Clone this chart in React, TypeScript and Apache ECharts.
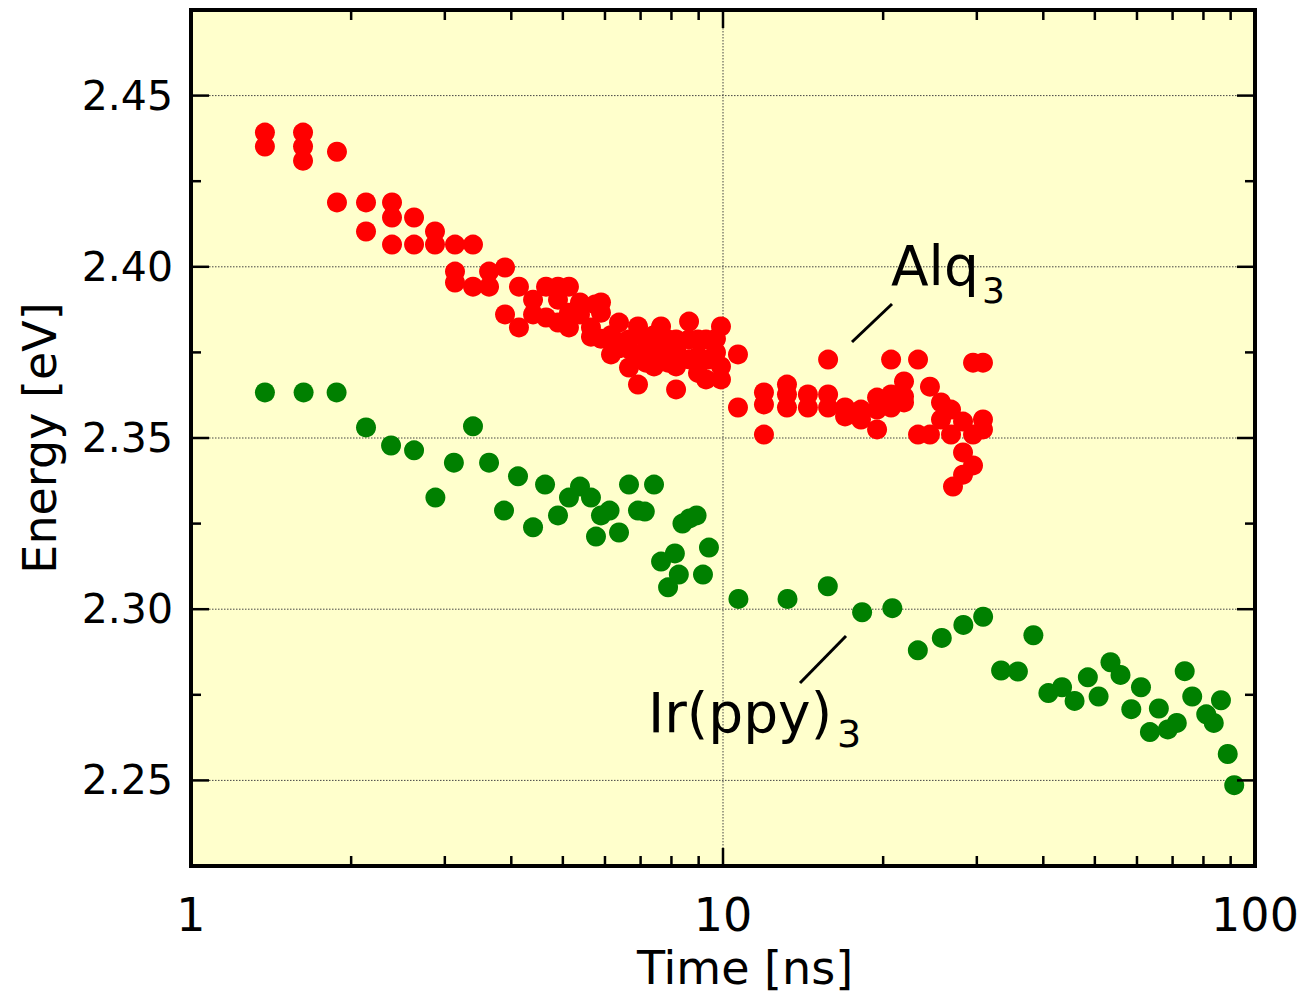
import React, { useEffect, useRef } from 'react';
import * as echarts from 'echarts';

// Alq3 (red) data: time [ns], energy [eV]
const alqTime = [
  1.377, 1.377,
  1.624, 1.624, 1.624,
  1.881, 1.881,
  2.133, 2.133,
  2.387, 2.387, 2.387,
  2.626, 2.626,
  2.875, 2.875,
  3.135, 3.135, 3.135,
  3.389, 3.389,
  3.633, 3.633,
  3.893, 3.893,
  4.135, 4.135,
  4.395, 4.395,
  4.649, 4.649,
  4.896, 4.896, 4.896,
  5.134, 5.134, 5.134,
  5.385, 5.385,
  5.647, 5.647,
  5.75,
  5.897, 5.897, 5.897,
  6.159, 6.159,
  6.376, 6.376, 6.376,
  6.658, 6.658, 6.658,
  6.922, 6.922, 6.922,
  7.167, 7.167, 7.167,
  7.419, 7.419,
  7.648, 7.648, 7.648,
  7.884, 7.884,
  8.162, 8.162, 8.162, 8.162,
  8.634, 8.634, 8.634,
  8.974, 8.974, 8.974,
  9.291, 9.291,
  9.372,
  9.701, 9.701,
  9.913, 9.913, 9.913,
  10.67, 10.67,
  11.94, 11.94, 11.94,
  13.19, 13.19, 13.19,
  14.44, 14.44,
  15.76, 15.76, 15.76,
  16.96, 16.96,
  18.17, 18.17,
  19.48, 19.48, 19.48,
  20.7, 20.7, 20.7,
  21.89, 21.89, 21.89,
  23.26, 23.26,
  24.49, 24.49,
  25.69, 25.69,
  26.83, 26.83,
  27.06,
  28.26, 28.26, 28.26,
  29.51, 29.51, 29.51,
  30.81, 30.81, 30.81,
];
const alqEnergy = [
  2.4392, 2.4351,
  2.4392, 2.4351, 2.431,
  2.4336, 2.4188,
  2.4188, 2.4103,
  2.4188, 2.4144, 2.4065,
  2.4144, 2.4065,
  2.4103, 2.4065,
  2.4065, 2.3986, 2.3954,
  2.4065, 2.3942,
  2.3986, 2.3942,
  2.3998, 2.3861,
  2.3942, 2.3823,
  2.3904, 2.3861,
  2.3942, 2.3852,
  2.3942, 2.3904, 2.3837,
  2.3942, 2.3866, 2.3823,
  2.3896, 2.3861,
  2.3823, 2.3796,
  2.389,
  2.3896, 2.3866, 2.379,
  2.38, 2.3744,
  2.3837, 2.378, 2.3762,
  2.376, 2.3706, 2.3788,
  2.3826, 2.374, 2.3656,
  2.3788, 2.372, 2.3756,
  2.38, 2.3709,
  2.3826, 2.3788, 2.3752,
  2.3788, 2.372,
  2.376, 2.3709, 2.3642, 2.3788,
  2.384, 2.3788, 2.373,
  2.3738, 2.369, 2.3788,
  2.3788, 2.3671,
  2.3729,
  2.379, 2.375,
  2.3826, 2.3709, 2.3671,
  2.3744, 2.3589,
  2.3633, 2.3598, 2.351,
  2.3656, 2.3627, 2.3589,
  2.3627, 2.3589,
  2.3729, 2.3627, 2.3589,
  2.3589, 2.3563,
  2.3583, 2.3554,
  2.3618, 2.3583, 2.3525,
  2.3729, 2.3627, 2.3589,
  2.3665, 2.3621, 2.3604,
  2.3729, 2.351,
  2.365, 2.351,
  2.3604, 2.3554,
  2.3583, 2.351,
  2.3358,
  2.3548, 2.3458, 2.3393,
  2.372, 2.351, 2.342,
  2.372, 2.3554, 2.3525,
];

// Ir(ppy)3 (green) data
const irTime = [
  1.377, 1.628, 1.878, 2.133, 2.377, 2.626, 2.88, 3.12, 3.389, 3.633,
  3.876, 4.118, 4.395, 4.629, 4.896, 5.134, 5.385, 5.647, 5.897, 6.12,
  5.771, 6.376, 6.658, 7.419, 6.922, 7.129, 7.648, 8.12, 8.26, 7.884,
  9.17, 9.41, 8.39, 8.92, 8.65,
  10.69, 13.22, 15.74, 18.26, 20.81, 23.24, 25.78, 28.3, 30.83, 33.32,
  35.84, 38.32, 40.89, 43.38, 45.8, 48.51, 50.82, 53.5, 55.87, 58.54,
  61.05, 63.45, 65.96, 68.57, 71.29, 73.77, 76.21, 80.97, 83.66, 86.3,
  88.87, 91.4,
];
const irEnergy = [
  2.3633, 2.3633, 2.3633, 2.3531, 2.3478, 2.3464, 2.3326, 2.3428, 2.3534, 2.3428,
  2.3288, 2.3388, 2.3239, 2.3364, 2.3274, 2.3326, 2.3358, 2.3326, 2.3274, 2.3288,
  2.3212, 2.3224, 2.3364, 2.3364, 2.3288, 2.3285, 2.3139, 2.3163, 2.3101, 2.3064,
  2.3101, 2.318, 2.325, 2.3274, 2.3265,
  2.303, 2.303, 2.3067, 2.2991, 2.3003, 2.288, 2.2916, 2.2954, 2.2978, 2.2821,
  2.2818, 2.2924, 2.2755, 2.2772, 2.2732, 2.2801, 2.2745, 2.2845, 2.2808, 2.2708,
  2.2772, 2.2641, 2.271, 2.2649, 2.2668, 2.2819, 2.2745, 2.2693, 2.2668, 2.2734,
  2.2577, 2.2486,
];

const xMin = 1;
const xMax = 100;
const yMin = 2.225;
const yMax = 2.475;
const yStep = 0.025;
const xMajorTicks = [10];
const xMinorTicks = [2, 3, 4, 5, 6, 7, 8, 9, 20, 30, 40, 50, 60, 70, 80, 90];
const xGridValues = [10];
const yMajorTicks = [2.25, 2.3, 2.35, 2.4, 2.45];
const yMinorTicks = [2.275, 2.325, 2.375, 2.425];

const FONT = "'DejaVu Sans', Verdana, sans-serif";

function xTickSeries(values: number[], len: number) {
  return {
    type: 'custom',
    coordinateSystem: 'cartesian2d',
    silent: true,
    z: 6,
    data: values.map((v) => [v, 2.35]),
    renderItem: (params: any, api: any) => {
      const cs = params.coordSys;
      const px = api.coord([api.value(0), api.value(1)])[0];
      const bottom = cs.y + cs.height;
      const top = cs.y;
      const style = { stroke: '#000', lineWidth: 2.5 };
      return {
        type: 'group',
        children: [
          { type: 'line', shape: { x1: px, y1: bottom, x2: px, y2: bottom - len }, style },
          { type: 'line', shape: { x1: px, y1: top, x2: px, y2: top + len }, style },
        ],
      };
    },
  };
}

function yTickSeries(values: number[], len: number) {
  return {
    type: 'custom',
    coordinateSystem: 'cartesian2d',
    silent: true,
    z: 6,
    data: values.map((v) => [10, v]),
    renderItem: (params: any, api: any) => {
      const cs = params.coordSys;
      const py = api.coord([api.value(0), api.value(1)])[1];
      const left = cs.x;
      const right = cs.x + cs.width;
      const style = { stroke: '#000', lineWidth: 2.5 };
      return {
        type: 'group',
        children: [
          { type: 'line', shape: { x1: left, y1: py, x2: left + len, y2: py }, style },
          { type: 'line', shape: { x1: right, y1: py, x2: right - len, y2: py }, style },
        ],
      };
    },
  };
}

function frameSeries() {
  return {
    type: 'custom',
    coordinateSystem: 'cartesian2d',
    silent: true,
    z: 7,
    data: [[10, 2.35]],
    renderItem: (params: any) => {
      const cs = params.coordSys;
      return {
        type: 'rect',
        shape: { x: cs.x, y: cs.y, width: cs.width, height: cs.height },
        style: { fill: 'none', stroke: '#000', lineWidth: 4 },
      };
    },
  };
}

function gridSeries() {
  const data: any[] = [];
  xGridValues.forEach((v) => data.push([v, 2.35, 0]));
  yMajorTicks.forEach((v) => data.push([10, v, 1]));
  return {
    type: 'custom',
    coordinateSystem: 'cartesian2d',
    silent: true,
    z: 1,
    data,
    renderItem: (params: any, api: any) => {
      const cs = params.coordSys;
      const p = api.coord([api.value(0), api.value(1)]);
      const isY = api.value(2) === 1;
      const style = { stroke: '#444', lineWidth: 1, lineDash: [1.5, 1.5] };
      return isY
        ? { type: 'line', shape: { x1: cs.x, y1: p[1], x2: cs.x + cs.width, y2: p[1] }, style }
        : { type: 'line', shape: { x1: p[0], y1: cs.y, x2: p[0], y2: cs.y + cs.height }, style };
    },
  };
}

export default function App() {
  const ref = useRef<HTMLDivElement>(null);
  useEffect(() => {
    if (!ref.current) return;
    const chart = echarts.init(ref.current, undefined, { renderer: 'svg' });
    const alqData = alqTime.map((t, i) => [t, alqEnergy[i]]);
    const irData = irTime.map((t, i) => [t, irEnergy[i]]);
    chart.setOption({
      animation: false,
      backgroundColor: '#ffffff',
      grid: {
        left: 191,
        right: 54,
        top: 10,
        bottom: 132,
        show: true,
        backgroundColor: '#ffffcc',
        borderWidth: 0,
      },
      xAxis: {
        type: 'log',
        logBase: 10,
        min: xMin,
        max: xMax,
        axisLine: { show: false },
        axisTick: { show: false },
        splitLine: { show: false },
        minorTick: { show: false },
        axisLabel: {
          show: true,
          showMinLabel: true,
          showMaxLabel: true,
          color: '#000',
          fontFamily: FONT,
          fontSize: 46,
          margin: 26,
        },
        name: 'Time [ns]',
        nameLocation: 'middle',
        nameGap: 79,
        nameTextStyle: {
          color: '#000',
          fontFamily: FONT,
          fontSize: 46,
          padding: [0, 0, 0, 44],
        },
      },
      yAxis: {
        type: 'value',
        min: yMin,
        max: yMax,
        interval: yStep,
        axisLine: { show: false },
        axisTick: { show: false },
        splitLine: { show: false },
        axisLabel: {
          color: '#000',
          fontFamily: FONT,
          fontSize: 41,
          margin: 18,
          formatter: (v: number) =>
            yMajorTicks.some((m) => Math.abs(m - v) < 1e-6) ? v.toFixed(2) : '',
        },
        name: 'Energy [eV]',
        nameLocation: 'middle',
        nameGap: 128,
        nameTextStyle: {
          color: '#000',
          fontFamily: FONT,
          fontSize: 46,
        },
      },
      series: [
        gridSeries(),
        {
          name: 'Alq3',
          type: 'scatter',
          data: alqData,
          symbol: 'circle',
          symbolSize: 20,
          itemStyle: { color: '#ff0000', opacity: 1 },
          z: 3,
        },
        {
          name: 'Ir(ppy)3',
          type: 'scatter',
          data: irData,
          symbol: 'circle',
          symbolSize: 20,
          itemStyle: { color: '#008000', opacity: 1 },
          z: 3,
        },
        xTickSeries(xMajorTicks, 18),
        xTickSeries(xMinorTicks, 10),
        yTickSeries(yMajorTicks, 18),
        yTickSeries(yMinorTicks, 10),
        frameSeries(),
      ],
      graphic: [
        {
          type: 'line',
          shape: { x1: 852, y1: 342, x2: 892, y2: 304 },
          style: { stroke: '#000', lineWidth: 3 },
          z: 20,
        },
        {
          type: 'text',
          x: 891,
          y: 266,
          style: { text: 'Alq', font: `55px ${FONT}`, fill: '#000', textVerticalAlign: 'middle' },
          z: 20,
        },
        {
          type: 'text',
          x: 982,
          y: 290,
          style: { text: '3', font: `36px ${FONT}`, fill: '#000', textVerticalAlign: 'middle' },
          z: 20,
        },
        {
          type: 'line',
          shape: { x1: 800, y1: 683, x2: 846, y2: 636 },
          style: { stroke: '#000', lineWidth: 3 },
          z: 20,
        },
        {
          type: 'text',
          x: 648,
          y: 713,
          style: { text: 'Ir(ppy)', font: `55px ${FONT}`, fill: '#000', textVerticalAlign: 'middle' },
          z: 20,
        },
        {
          type: 'text',
          x: 837,
          y: 734,
          style: { text: '3', font: `38px ${FONT}`, fill: '#000', textVerticalAlign: 'middle' },
          z: 20,
        },
      ],
    });
    return () => chart.dispose();
  }, []);
  return <div ref={ref} style={{ width: 1309, height: 998, position: 'absolute', left: 0, top: 0 }} />;
}
